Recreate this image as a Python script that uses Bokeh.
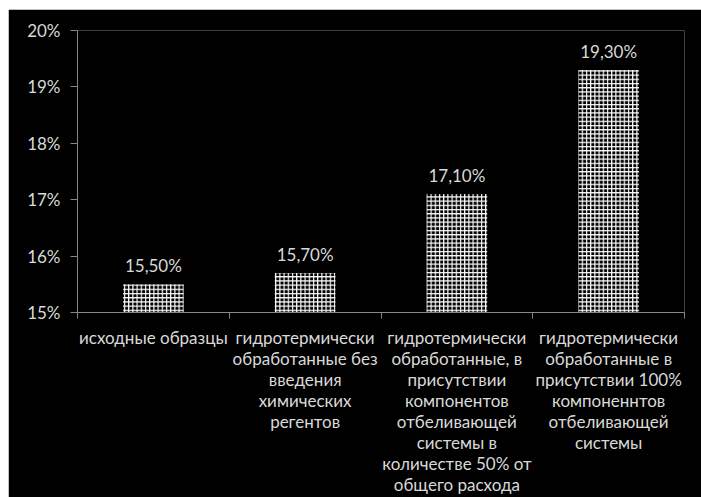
from bokeh.plotting import figure
from bokeh.layouts import column, row
from bokeh.models import FixedTicker, NumeralTickFormatter, ColumnDataSource, LabelSet, Range1d, Spacer
from bokeh.core.properties import value
from bokeh.embed import file_html
from bokeh.resources import INLINE

categories = [
    "исходные образцы",
    "гидротермически\nобработанные без\nвведения\nхимических\nрегентов",
    "гидротермически\nобработанные, в\nприсутствии\nкомпонентов\nотбеливающей\nсистемы в\nколичестве 50% от\nобщего расхода",
    "гидротермически\nобработанные в\nприсутствии 100%\nкомпоненнтов\nотбеливающей\nсистемы",
]
values = [0.155, 0.157, 0.171, 0.193]
y_ticks = [0.15, 0.16, 0.17, 0.18, 0.19, 0.20]

FONT = "Lato"
TXT = "#d9d9d9"
AX = "#868686"

xs = [i + 0.5 for i in range(len(categories))]
labels = [f"{v*100:.2f}%".replace(".", ",") for v in values]
src = ColumnDataSource(dict(x=xs, top=values, label=labels))

fig = figure(width=693, height=488, output_backend="svg", toolbar_location=None,
             x_range=Range1d(0, len(categories)), y_range=Range1d(y_ticks[0], y_ticks[-1]))
fig.background_fill_color = "black"
fig.border_fill_color = "black"
fig.outline_line_color = None
fig.min_border_left = 69
fig.min_border_top = 21
fig.min_border_right = 17
fig.min_border_bottom = 183
fig.xgrid.visible = False
fig.ygrid.visible = False

fig.vbar(x="x", top="top", bottom=0, width=0.4, source=src,
         fill_color="black", line_color=None,
         hatch_pattern="+", hatch_color="white", hatch_scale=4.2, hatch_weight=1.2)

fig.add_layout(LabelSet(x="x", y="top", text="label", source=src, y_offset=12,
                        text_align="center", text_baseline="alphabetic",
                        text_color=TXT, text_font=value(FONT), text_font_size="17px"))

# y axis
ya = fig.yaxis[0]
ya.ticker = FixedTicker(ticks=y_ticks)
ya.formatter = NumeralTickFormatter(format="0%")
ya.axis_line_color = AX
ya.major_tick_line_color = AX
ya.major_tick_in = 0
ya.major_tick_out = 7
ya.minor_tick_line_color = None
ya.major_label_text_color = TXT
ya.major_label_text_font = FONT
ya.major_label_text_font_size = "17px"
ya.major_label_standoff = 10

# x axis
xa = fig.xaxis[0]
xa.ticker = FixedTicker(ticks=xs, minor_ticks=list(range(len(categories) + 1)))
xa.major_label_overrides = {x: c for x, c in zip(xs, categories)}
xa.axis_line_color = AX
xa.major_tick_line_color = None
xa.major_tick_in = 0
xa.major_tick_out = 6
xa.minor_tick_line_color = AX
xa.minor_tick_in = 0
xa.minor_tick_out = 6
xa.major_label_text_color = TXT
xa.major_label_text_font = FONT
xa.major_label_text_font_size = "17px"
xa.major_label_text_line_height = 1.0
xa.major_label_standoff = 8

p = column(Spacer(width=701, height=9),
           row(Spacer(width=8, height=488), fig))

open("out.html", "w").write(file_html(p, INLINE))
